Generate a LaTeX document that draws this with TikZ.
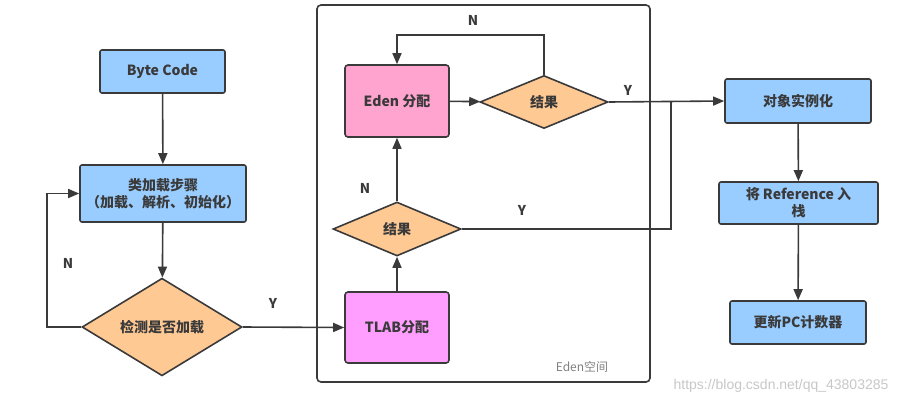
\documentclass[tikz,border=0pt]{standalone}
\usepackage{fontspec}
\setmainfont{Noto Sans CJK SC}
\newfontfamily\urlfont{Liberation Sans}
\usetikzlibrary{shapes.geometric,arrows.meta}

\definecolor{boxblue}{HTML}{99CCFF}
\definecolor{edenpink}{HTML}{FFA3CF}
\definecolor{tlabpink}{HTML}{FF9EFF}
\definecolor{decorange}{HTML}{FFC994}
\definecolor{linegray}{HTML}{3A3A3A}

\begin{document}
\begin{tikzpicture}[x=1pt,y=-1pt,
    font=\fontsize{14}{17}\selectfont\bfseries,
    text=linegray,
    >={Triangle[length=11pt,width=9pt]},
    flow/.style={draw=linegray, line width=1.6pt},
    blockbox/.style={draw=linegray, line width=1.6pt, fill=boxblue, rounded corners=2pt, align=center, inner sep=0pt},
    edenbox/.style={blockbox, fill=edenpink, rounded corners=3pt},
    tlabbox/.style={blockbox, fill=tlabpink, rounded corners=3pt},
    decision/.style={diamond, draw=linegray, line width=1.6pt, fill=decorange, inner sep=0pt},
    yn/.style={font=\fontsize{13.5}{16}\selectfont\bfseries, text=linegray}]
        \useasboundingbox (0,0) rectangle (912,405);
        % Eden space frame
        \draw [linegray, line width=1.6pt, rounded corners=4pt] (317,5) rectangle (650,382);
        \node [font=\fontsize{12}{14}\selectfont, text=gray] (edenlabel) at (582,367) {Eden空间};

        % left column
        \node [blockbox, minimum width=125pt, minimum height=43pt] (bytecode) at (162.5,71.5) {Byte Code};
        \node [blockbox, minimum width=166pt, minimum height=57pt] (loadstep) at (163,193.5) {类加载步骤\\（加载、解析、初始化）};
        \node [decision, minimum width=160pt, minimum height=76pt] (checkload) at (162,327) {检测是否加载};

        % Eden column
        \node [tlabbox, minimum width=104pt, minimum height=71pt] (tlab) at (397,327.5) {TLAB分配};
        \node [decision, minimum width=128pt, minimum height=54pt] (tlabres) at (397,229) {结果};
        \node [edenbox, minimum width=104pt, minimum height=72pt] (eden) at (397,101) {Eden 分配};
        \node [decision, minimum width=128pt, minimum height=53pt] (edenres) at (544,102) {结果};

        % right column
        \node [blockbox, minimum width=146pt, minimum height=44pt] (newobj) at (798,101) {对象实例化};
        \node [blockbox, minimum width=159pt, minimum height=42pt] (pushref) at (798.5,203) {将 Reference 入\\栈};
        \node [blockbox, minimum width=136pt, minimum height=43pt] (updpc) at (798,322.5) {更新PC计数器};
        \coordinate (join) at (671,102);

        % connectors
        \draw [flow, ->] (bytecode) -- (loadstep);
        \draw [flow, ->] (loadstep) -- (checkload);
        \draw [flow, ->] (checkload.west) -- ++(-34,0) |- (loadstep.west);
        \draw [flow, ->] (checkload.east) -- (tlab.west);
        \draw [flow, ->] (tlab) -- (tlabres);
        \draw [flow, ->] (tlabres) -- (eden);
        \draw [flow, ->] (eden) -- (edenres);
        \draw [flow, ->] (edenres.north) -- ++(0,-40) -| (eden.north);
        \draw [flow, ->] (edenres.east) -- (newobj.west);
        \draw [flow] (tlabres.east) -- (tlabres.east -| join) -- (join);
        \draw [flow, ->] (newobj) -- (pushref);
        \draw [flow, ->] (pushref) -- (updpc);

        % Y / N labels
        \node [yn] (nload) at (68,263) {N};
        \node [yn] (yload) at (273,303) {Y};
        \node [yn] (nedenres) at (473,20) {N};
        \node [yn] (yedenres) at (628,90) {Y};
        \node [yn] (ntlabres) at (365,188) {N};
        \node [yn] (ytlabres) at (522,210) {Y};

        % watermark
        \node [font=\urlfont\fontsize{14}{16}\selectfont, text=black!22] (mark) at (781,386) {https://blog.csdn.net/qq\_43803285};
        \end{tikzpicture}
\end{document}
